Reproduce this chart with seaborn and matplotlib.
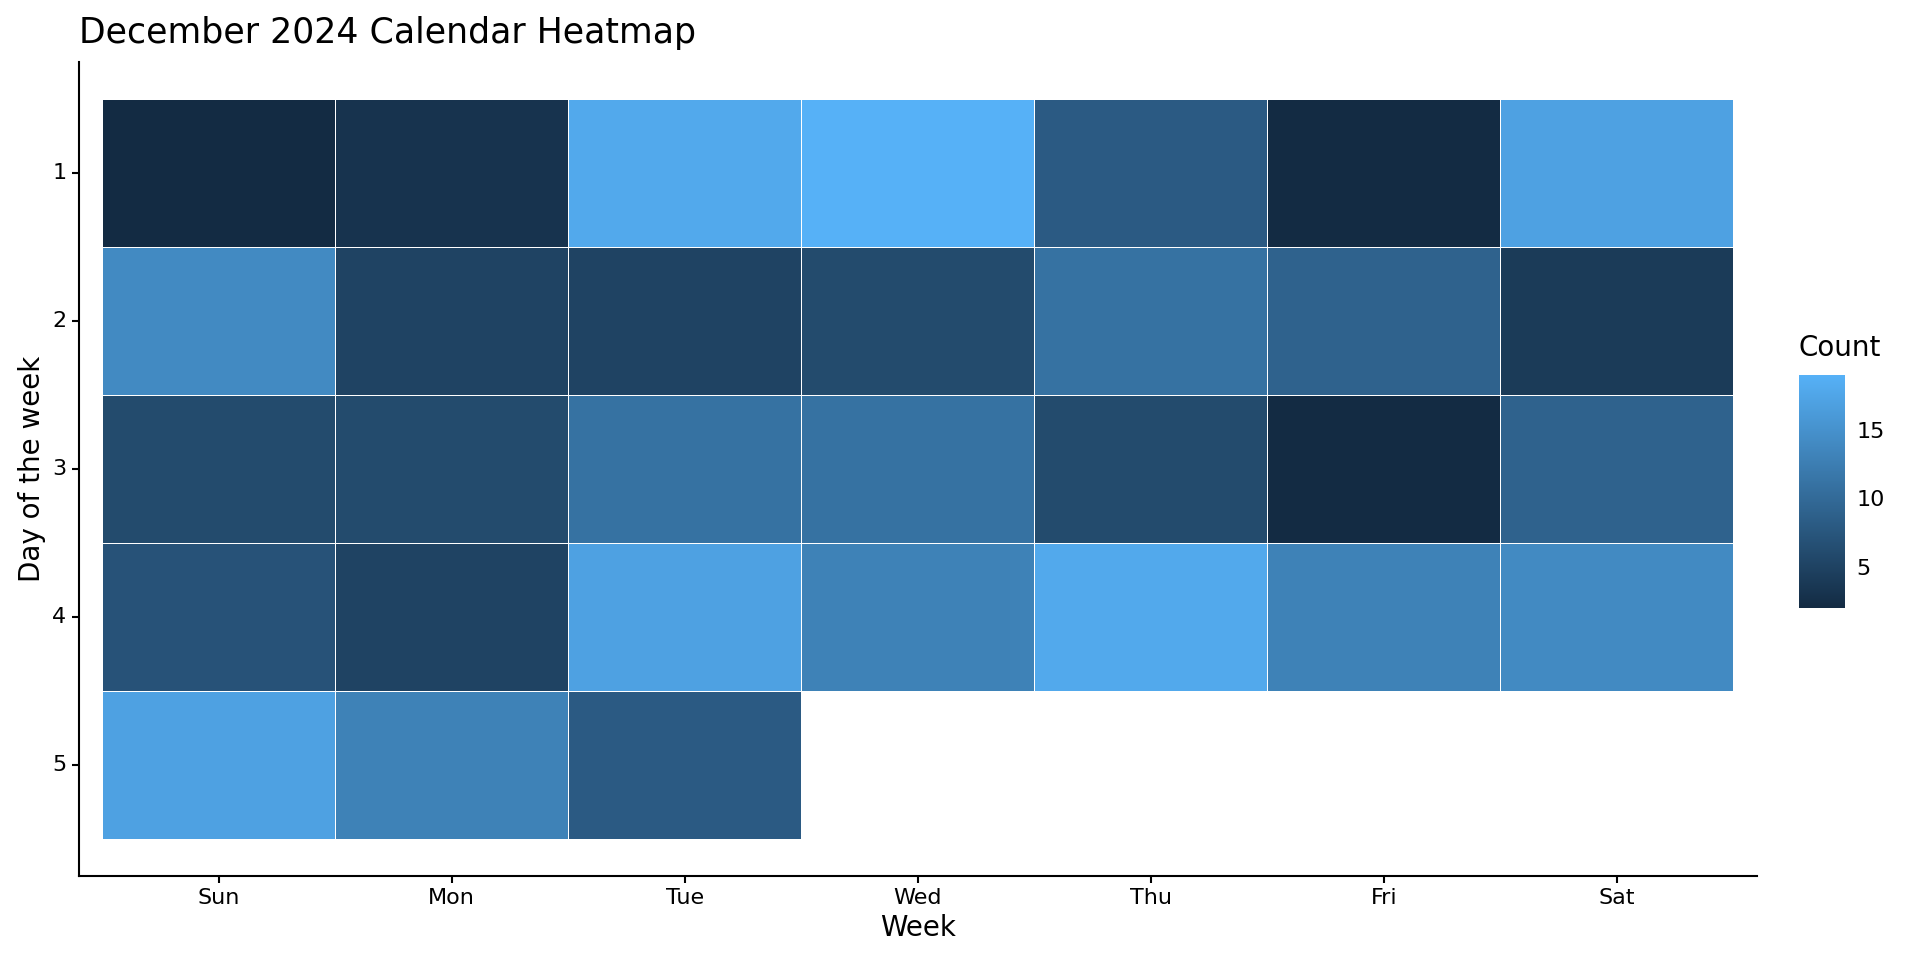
import numpy as np
import pandas as pd
import seaborn as sns
import matplotlib.pyplot as plt
from matplotlib.colors import LinearSegmentedColormap

# weekday columns and week rows
days = ['Sun', 'Mon', 'Tue', 'Wed', 'Thu', 'Fri', 'Sat']
weeks = [1, 2, 3, 4, 5]

# counts per week, NaN = no date
week1 = [2, 3, 18, 19, 8, 2, 17]
week2 = [14, 5, 5, 6, 11, 9, 4]
week3 = [6, 6, 11, 11, 6, 2, 9]
week4 = [7, 5, 17, 13, 18, 13, 14]
week5 = [17, 13, 8, np.nan, np.nan, np.nan, np.nan]

counts = pd.DataFrame([week1, week2, week3, week4, week5], index=weeks, columns=days)

sns.set_style("white")
plt.rcParams['font.family'] = ['DejaVu Sans']
plt.rcParams['text.color'] = 'black'
plt.rcParams['axes.labelcolor'] = 'black'
plt.rcParams['xtick.color'] = 'black'
plt.rcParams['ytick.color'] = 'black'

# ggplot-like default continuous gradient
cmap = LinearSegmentedColormap.from_list('gg', ['#132B43', '#56B1F7'])

fig = plt.figure(figsize=(19.2, 9.6), dpi=100)
ax = fig.add_axes([0.041, 0.088, 0.874, 0.847])
cax = fig.add_axes([1799 / 1920, 1 - 608 / 960, 46 / 1920, 233 / 960])

sns.heatmap(counts, ax=ax, cbar_ax=cax, cmap=cmap, vmin=counts.min().min(), vmax=counts.max().max(),
            linewidths=0.6, linecolor='white', square=False)

# leave some room around the tiles like the original
ax.set_xlim(-0.1, 7.1)
ax.set_ylim(5.25, -0.25)
for side in ['left', 'bottom']:
    ax.spines[side].set_visible(True)
    ax.spines[side].set_color('black')
    ax.spines[side].set_linewidth(1.5)
ax.spines['top'].set_visible(False)
ax.spines['right'].set_visible(False)

ax.tick_params(axis='both', which='both', length=5, width=1.5, color='black', labelsize=16, pad=4)
ax.tick_params(left=True, bottom=True)
ax.set_xticklabels(days, rotation=0)
ax.set_yticklabels([str(w) for w in weeks], rotation=0)

ax.set_xlabel('Week', fontsize=20)
ax.set_ylabel('Day of the week', fontsize=20)
ax.set_title('December 2024 Calendar Heatmap', fontsize=25, loc='left', pad=14, x=0.0)

# colorbar styling
cbar = ax.collections[0].colorbar
cbar.set_ticks([5, 10, 15])
cbar.outline.set_visible(False)
cax.yaxis.set_ticks_position('both')
cax.tick_params(axis='y', direction='in', length=9, width=1, color='white', labelsize=16, pad=8)
cax.tick_params(axis='y', labelleft=False, labelright=True)
for t in cax.get_yticklabels():
    t.set_color('black')
fig.text(1799 / 1920, 1 - 348 / 960, 'Count', fontsize=20, va='center', ha='left')

fig.savefig('out.png', dpi=100)
